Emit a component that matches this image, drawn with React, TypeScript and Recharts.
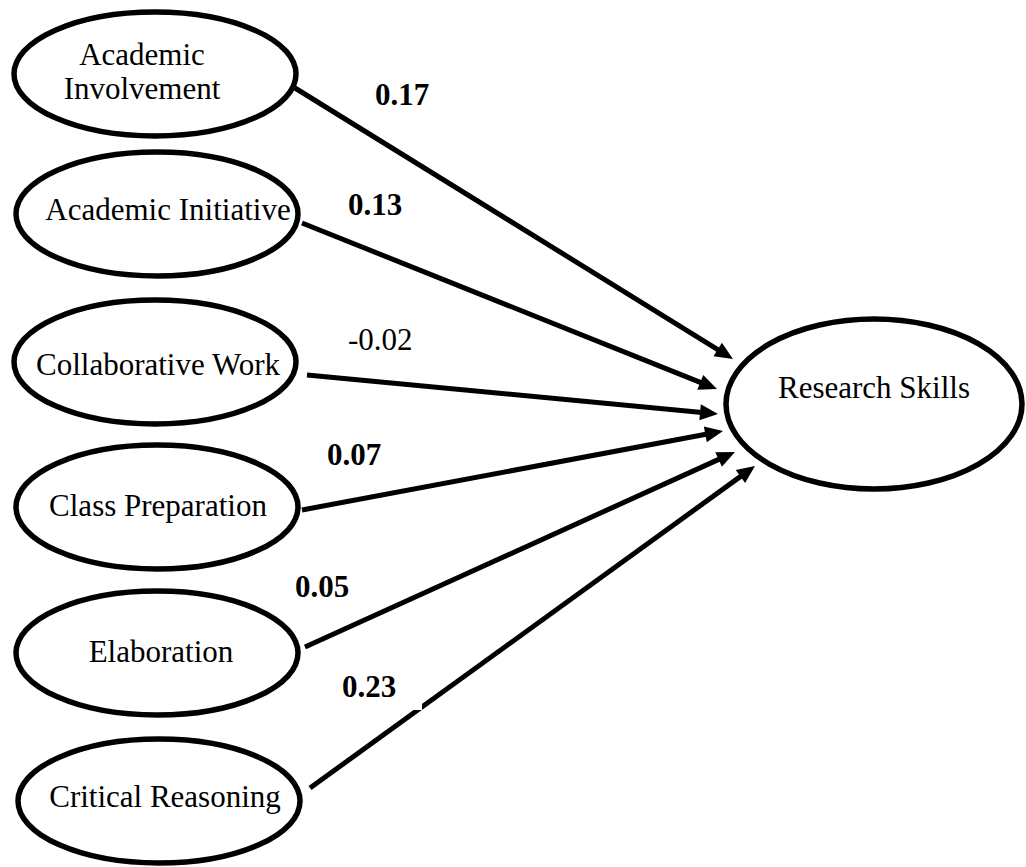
import { ScatterChart, Scatter, XAxis, YAxis, ReferenceLine } from "recharts";

// path model: six engagement constructs predicting research skills
const predictorLabels = [
  ["Academic", "Involvement"],
  ["Academic Initiative"],
  ["Collaborative Work"],
  ["Class Preparation"],
  ["Elaboration"],
  ["Critical Reasoning"],
];
const coefficients = [0.17, 0.13, -0.02, 0.07, 0.05, 0.23];
const significant = [true, true, false, true, true, true];
const outcomeLabel = "Research Skills";

// diagram layout, in canvas units (1 unit = 1px)
const predictorX = [155, 157, 155, 157, 157, 159];
const predictorY = [74, 214, 362, 507, 653, 801];
const labelDx = [-13, 11, 3, 1, 4, 6];
const labelDy = [-9, 6, 13, 9, 9, 6];
const outcomeX = 874;
const outcomeY = 404;
const edgeFrom = [
  [295, 88],
  [302, 223],
  [307, 375],
  [302, 510],
  [305, 647],
  [310, 788],
];
const edgeTo = [
  [733, 359],
  [717, 389],
  [718, 414],
  [723, 431],
  [735, 452],
  [755, 466],
];
const coefPos = [
  [375, 105],
  [348, 215],
  [348, 350],
  [327, 465],
  [295, 597],
  [342, 697],
];
// small gap in the 0.23 path left by the original text box
const gapPos = [[416, 707]];

const W = 1026;
const H = 867;
const FONT = "'Liberation Serif', 'Times New Roman', serif";

const predictorNodes = predictorLabels.map((lines, i) => ({
  x: predictorX[i],
  y: predictorY[i],
  lines,
  dx: labelDx[i],
  dy: labelDy[i],
}));
const outcomeNodes = [{ x: outcomeX, y: outcomeY, lines: [outcomeLabel], dx: 0, dy: -6 }];
const coefNodes = coefficients.map((c, i) => ({
  x: coefPos[i][0],
  y: coefPos[i][1],
  text: c.toFixed(2),
  bold: significant[i],
}));
const gapNodes = gapPos.map((p) => ({ x: p[0], y: p[1] }));

const makeEllipse = (rx: number, ry: number) => (props: any) => {
  const { cx, cy, payload } = props;
  const lines: string[] = payload.lines;
  return (
    <g>
      <ellipse cx={cx} cy={cy} rx={rx} ry={ry} fill="#fff" stroke="#000" strokeWidth={5.5} />
      {lines.map((l, k) => (
        <text
          key={k}
          x={cx + payload.dx}
          y={cy + payload.dy + k * 34}
          textAnchor="middle"
          fontFamily={FONT}
          fontSize={31}
          fill="#000"
        >
          {l}
        </text>
      ))}
    </g>
  );
};

const CoefLabel = (props: any) => {
  const { cx, cy, payload } = props;
  return (
    <text
      x={cx}
      y={cy}
      textAnchor="start"
      fontFamily={FONT}
      fontSize={31}
      fontWeight={payload.bold ? "bold" : "normal"}
      fill="#000"
    >
      {payload.text}
    </text>
  );
};

const GapMark = (props: any) => {
  const { cx, cy } = props;
  return <rect x={cx - 6} y={cy - 5} width={12} height={8} fill="#fff" />;
};

const ArrowShape = (props: any) => {
  const { x1, y1, x2, y2 } = props;
  const ang = Math.atan2(y2 - y1, x2 - x1);
  const len = 18;
  const half = 8;
  const bx = x2 - len * Math.cos(ang);
  const by = y2 - len * Math.sin(ang);
  const px = -Math.sin(ang) * half;
  const py = Math.cos(ang) * half;
  return (
    <g>
      <line x1={x1} y1={y1} x2={bx + Math.cos(ang) * 2} y2={by + Math.sin(ang) * 2} stroke="#000" strokeWidth={5} />
      <polygon points={`${x2},${y2} ${bx + px},${by + py} ${bx - px},${by - py}`} fill="#000" />
    </g>
  );
};

export default function App() {
  return (
    <div style={{ position: "absolute", left: 0, top: 0, width: W, height: H, background: "#fff" }}>
      <ScatterChart width={W} height={H} margin={{ top: 0, right: 0, bottom: 0, left: 0 }}>
        <XAxis type="number" dataKey="x" domain={[0, W]} hide allowDataOverflow />
        <YAxis type="number" dataKey="y" domain={[0, H]} reversed hide allowDataOverflow />
        {edgeFrom.map((p, i) => (
          <ReferenceLine
            key={i}
            segment={[
              { x: p[0], y: p[1] },
              { x: edgeTo[i][0], y: edgeTo[i][1] },
            ]}
            shape={ArrowShape}
            ifOverflow="visible"
          />
        ))}
        <Scatter data={predictorNodes} shape={makeEllipse(141, 62)} isAnimationActive={false} />
        <Scatter data={outcomeNodes} shape={makeEllipse(148, 85)} isAnimationActive={false} />
        <Scatter data={coefNodes} shape={CoefLabel} isAnimationActive={false} />
        <Scatter data={gapNodes} shape={GapMark} isAnimationActive={false} />
      </ScatterChart>
    </div>
  );
}
